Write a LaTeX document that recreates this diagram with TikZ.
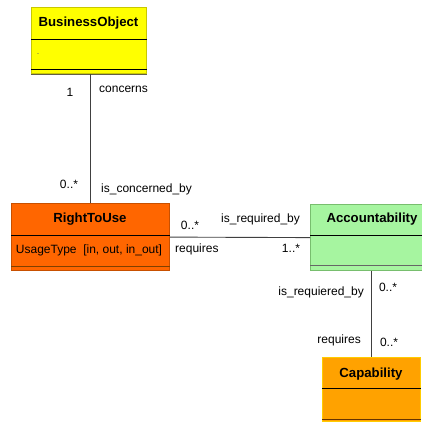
\documentclass[tikz,border=0pt]{standalone}
\usepackage{fontspec}
\setmainfont{Liberation Sans}
\definecolor{rtufill}{RGB}{255,102,0}
\definecolor{rtuedge}{RGB}{200,80,0}
\definecolor{accfill}{RGB}{166,245,160}
\definecolor{accedge}{RGB}{120,190,110}
\definecolor{capfill}{RGB}{255,162,0}
\definecolor{capedge}{RGB}{255,204,0}
\definecolor{bofill}{RGB}{255,255,0}
\definecolor{boedge}{RGB}{200,200,0}
\begin{document}
\begin{tikzpicture}[x=1pt,y=-1pt,
  cls/.style={draw=#1, line width=1.2pt, anchor=north west, inner sep=0pt},
  ttl/.style={font=\fontsize{13.2}{15}\selectfont\bfseries, inner sep=0pt},
  lbl/.style={font=\fontsize{12}{14}\selectfont, inner sep=0pt},
  sep/.style={draw=black, line width=0.8pt},
  conn/.style={draw=black!75, line width=0.9pt}]
\useasboundingbox (0,0) rectangle (422,422);
% BusinessObject
\node[cls=boedge, fill=bofill, minimum width=115, minimum height=66] (bo) at (31,7) {};
\node[ttl] (bot) at (88.5,23.5) {BusinessObject};
\draw[sep] (bo.west |- 0,39.5) -- (bo.east |- 0,39.5);
\draw[sep] (bo.west |- 0,69.5) -- (bo.east |- 0,69.5);
\draw[draw=black!70!yellow, line width=1pt] (bo.south west) -- (bo.south east);
\node[lbl, font=\fontsize{9}{9}\selectfont, text=black!60] (dot) at (38,54) {.};
% RightToUse
\node[cls=rtuedge, fill=rtufill, minimum width=158, minimum height=67] (rtu) at (11,203) {};
\node[ttl] (rtut) at (90,219) {RightToUse};
\draw[sep] (rtu.west |- 0,235) -- (rtu.east |- 0,235);
\draw[draw=orange!50!black, line width=0.8pt] (rtu.west |- 0,266) -- (rtu.east |- 0,266);
\node[lbl] (rtua) at (89,250) {UsageType\ \ [in, out, in\_out]};
% Accountability
\node[cls=accedge, fill=accfill, minimum width=112, minimum height=66] (acc) at (310,204) {};
\node[ttl] (acct) at (372,219.5) {Accountability};
\draw[sep] (acc.west |- 0,235) -- (acc.east |- 0,235);
\draw[draw=black!60, line width=0.9pt] (acc.west |- 0,265) -- (acc.east |- 0,265);
% Capability
\node[cls=capedge, fill=capfill, minimum width=98, minimum height=64] (cap) at (322,357) {};
\node[ttl] (capt) at (371,374.5) {Capability};
\draw[sep] (cap.west |- 0,388) -- (cap.east |- 0,388);
\draw[draw=orange!40!black, line width=0.9pt] (cap.west |- 0,419.5) -- (cap.east |- 0,419.5);
% connectors
\draw[conn] (bo.south -| 90,0) -- (rtu.north -| 90,0);
\draw[conn] (rtu.east) -- (acc.west);
\draw[conn] (acc.south -| cap.north) -- (cap.north);
% labels
\node[lbl] (l1) at (70,92) {1};
\node[lbl, anchor=west] (l2) at (99,89) {concerns};
\node[lbl] (l3) at (69,184) {0..*};
\node[lbl, anchor=west] (l4) at (101,189) {is\_concerned\_by};
\node[lbl] (l5) at (190,225) {0..*};
\node[lbl, anchor=west] (l6) at (221,219) {is\_required\_by};
\node[lbl, anchor=west] (l7) at (175,249) {requires};
\node[lbl] (l8) at (291,248) {1..*};
\node[lbl, anchor=east] (l9) at (364,292) {is\_requiered\_by};
\node[lbl] (l10) at (388,287) {0..*};
\node[lbl, anchor=east] (l11) at (361,340) {requires};
\node[lbl] (l12) at (389,342) {0..*};
\end{tikzpicture}
\end{document}
